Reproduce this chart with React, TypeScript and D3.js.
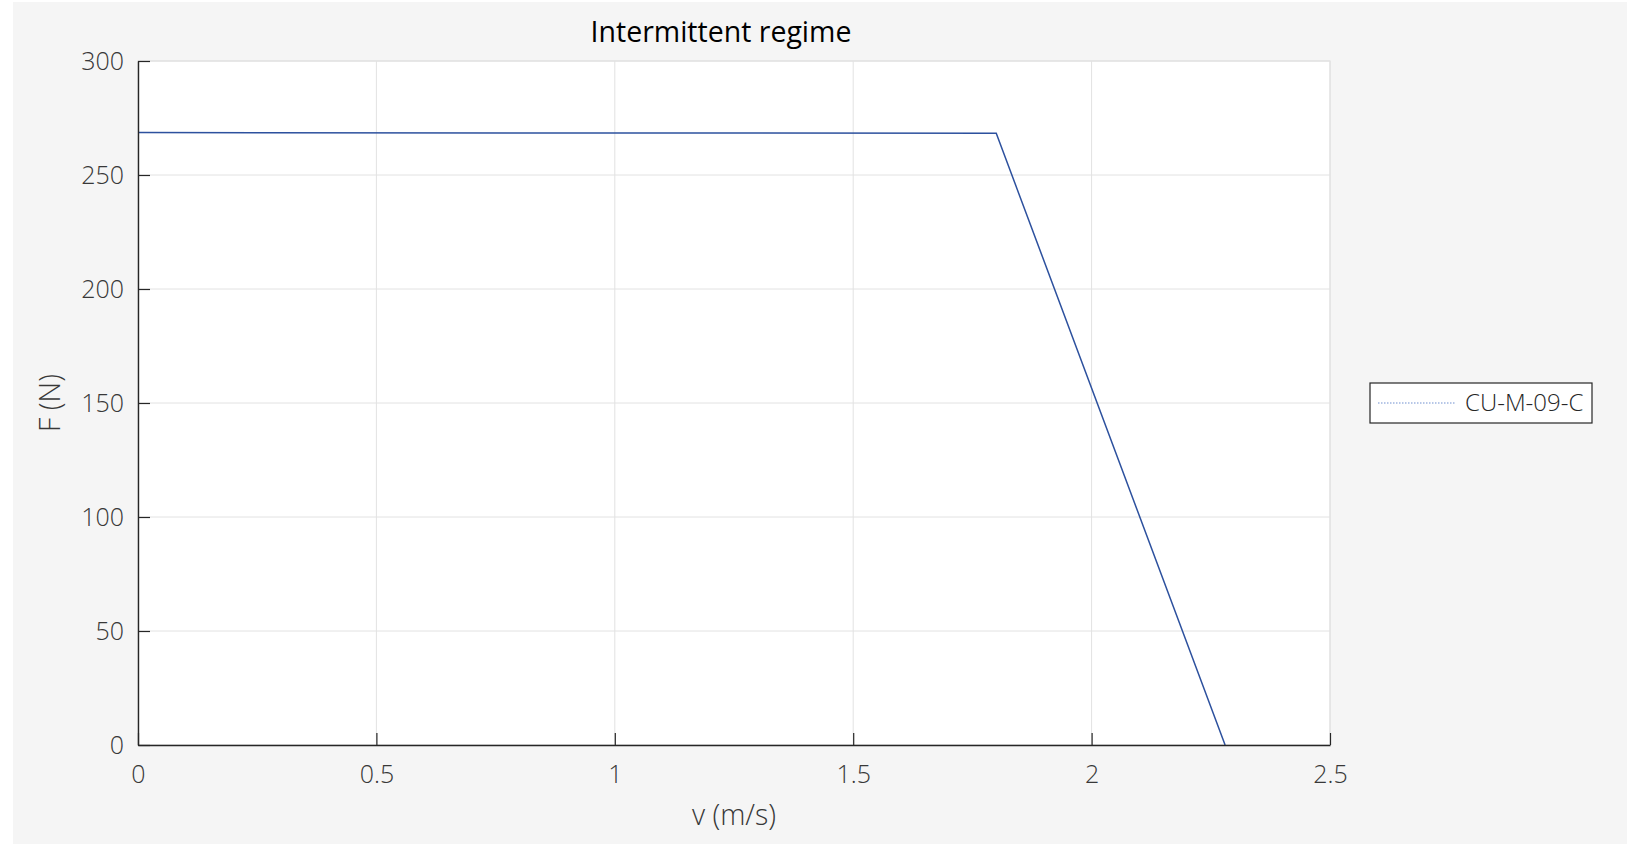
import React, { useEffect, useRef } from 'react';
import * as d3 from 'd3';

// curve (speed in m/s, force in N)
const speed = [0, 1.8, 2.28];
const force = [268.6, 268.3, 0];
const xTicks = [0, 0.5, 1, 1.5, 2, 2.5];
const yTicks = [0, 50, 100, 150, 200, 250, 300];
const seriesName = 'CU-M-09-C';

const FONT = "'Open Sans', 'Noto Sans', sans-serif";

function App() {
  const svgRef = useRef<SVGSVGElement>(null);

  useEffect(() => {
    document.body.style.overflow = 'hidden';
    const width = 1627;
    const height = 844;
    const plot = { left: 138, top: 61, right: 1330, bottom: 745 };

    const svg = d3.select(svgRef.current).attr('width', width).attr('height', height);
    svg.selectAll('*').remove();

    // grey figure background
    svg.append('rect')
      .attr('x', 13).attr('y', 2)
      .attr('width', width - 13).attr('height', height - 2)
      .attr('fill', '#f5f5f5');

    const xScale = d3.scaleLinear().domain([0, 2.5]).range([plot.left, plot.right]);
    const yScale = d3.scaleLinear().domain([0, 300]).range([plot.bottom, plot.top]);

    svg.append('rect')
      .attr('x', plot.left).attr('y', plot.top)
      .attr('width', plot.right - plot.left).attr('height', plot.bottom - plot.top)
      .attr('fill', '#ffffff')
      .attr('stroke', '#dcdcdc')
      .attr('stroke-width', 1);

    // grid
    const grid = svg.append('g').attr('stroke', '#e2e2e2').attr('stroke-width', 1);
    grid.selectAll('.gx')
      .data(xTicks.slice(1))
      .enter().append('line')
      .attr('x1', (d) => xScale(d)).attr('x2', (d) => xScale(d))
      .attr('y1', plot.top).attr('y2', plot.bottom);
    grid.selectAll('.gy')
      .data(yTicks.slice(1))
      .enter().append('line')
      .attr('x1', plot.left).attr('x2', plot.right)
      .attr('y1', (d) => yScale(d)).attr('y2', (d) => yScale(d));

    // data line
    const points = speed.map((v, i) => [v, force[i]] as [number, number]);
    const line = d3.line<[number, number]>()
      .x((d) => xScale(d[0]))
      .y((d) => yScale(d[1]));
    svg.append('path')
      .datum(points)
      .attr('d', line)
      .attr('fill', 'none')
      .attr('stroke', '#2d519e')
      .attr('stroke-width', 1.5);

    // axes (ticks pointing inward)
    const xAxis = svg.append('g')
      .attr('transform', `translate(0,${plot.bottom})`)
      .call(d3.axisBottom(xScale).tickValues(xTicks).tickSize(-12).tickSizeOuter(0).tickFormat(d3.format('')));
    const yAxis = svg.append('g')
      .attr('transform', `translate(${plot.left},0)`)
      .call(d3.axisLeft(yScale).tickValues(yTicks).tickSize(-12).tickSizeOuter(0));

    [xAxis, yAxis].forEach((ax) => {
      ax.select('.domain').attr('stroke', '#262626').attr('stroke-width', 1.4);
      ax.selectAll('.tick line').attr('stroke', '#262626').attr('stroke-width', 1.2);
      ax.selectAll('.tick text')
        .attr('fill', '#383838')
        .style('font-family', FONT)
        .style('font-weight', 300)
        .style('font-size', '25px');
    });
    xAxis.selectAll('.tick text').attr('y', 20).attr('dy', '0.71em');
    yAxis.selectAll('.tick text').attr('x', -14).attr('dy', '0.35em');

    // title and axis labels
    svg.append('text')
      .attr('x', 721).attr('y', 42)
      .attr('text-anchor', 'middle')
      .attr('fill', '#000')
      .style('font-family', FONT)
      .style('font-size', '28.5px')
      .text('Intermittent regime');

    svg.append('text')
      .attr('x', (plot.left + plot.right) / 2).attr('y', 825)
      .attr('text-anchor', 'middle')
      .attr('fill', '#383838')
      .style('font-family', FONT)
      .style('font-weight', 300)
      .style('font-size', '28.5px')
      .text('v (m/s)');

    svg.append('text')
      .attr('transform', `translate(60,${(plot.top + plot.bottom) / 2}) rotate(-90)`)
      .attr('text-anchor', 'middle')
      .attr('fill', '#383838')
      .style('font-family', FONT)
      .style('font-weight', 300)
      .style('font-size', '28.5px')
      .text('F (N)');

    // legend
    const legend = svg.append('g').attr('transform', 'translate(1370,383)');
    legend.append('rect')
      .attr('width', 222).attr('height', 40)
      .attr('fill', '#ffffff')
      .attr('stroke', '#262626')
      .attr('stroke-width', 1.2);
    legend.append('line')
      .attr('x1', 8).attr('x2', 86)
      .attr('y1', 20).attr('y2', 20)
      .attr('stroke', '#6f8fcf')
      .attr('stroke-width', 1)
      .attr('stroke-dasharray', '1.5,1.5');
    legend.append('text')
      .attr('x', 95).attr('y', 20)
      .attr('dy', '0.35em')
      .attr('fill', '#262626')
      .style('font-family', FONT)
      .style('font-weight', 300)
      .style('font-size', '24px')
      .text(seriesName);
  }, []);

  return (
    <svg ref={svgRef} style={{ position: 'absolute', left: 0, top: 0, display: 'block' }} />
  );
}

export default App;
